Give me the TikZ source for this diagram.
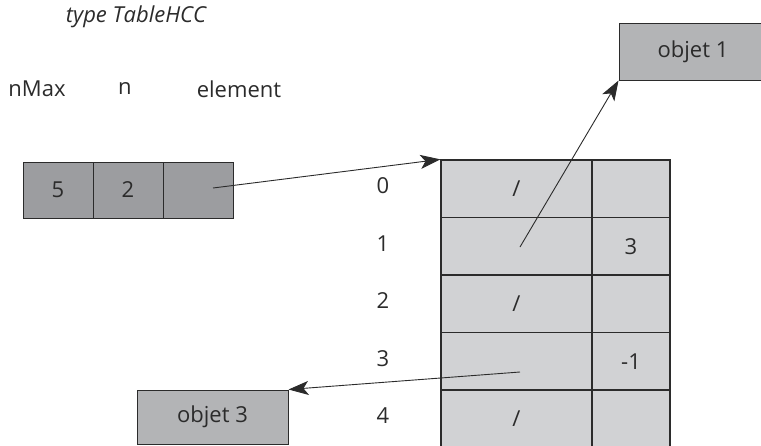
\documentclass[tikz,border=0pt]{standalone}
\usepackage{fontspec}
\setmainfont{Open Sans}
\usetikzlibrary{arrows.meta}
\definecolor{Ink}{HTML}{2B2B2B}
\definecolor{Slate}{HTML}{9C9DA0}
\definecolor{Ash}{HTML}{B3B4B6}
\definecolor{Mist}{HTML}{D1D2D4}

\begin{document}
\begin{tikzpicture}[x=1pt,y=-1pt,
    every node/.style={font=\fontsize{22}{26}\selectfont,text=Ink},
    champ/.style={draw=Ink,line width=1pt,fill=Slate,minimum width=70pt,minimum height=56pt,inner sep=0pt},
    objet/.style={draw=Ink,line width=1pt,fill=Ash,minimum width=151pt,minimum height=57pt,inner sep=0pt},
    case/.style={draw=Ink,line width=1.3pt,fill=Mist,minimum height=57.5pt,inner sep=0pt},
    pointeur/.style={-{Stealth[length=20pt,width=14pt,inset=5pt]},line width=0.9pt,draw=Ink}]
    \useasboundingbox (0,0) rectangle (761,445);
    \node[font=\fontsize{22}{26}\selectfont\itshape] (titre) at (136,17) {type TableHCC};
    \node (nmax) at (37,89) {nMax};
    \node (n) at (125,89) {n};
    \node (element) at (239,89) {element};
    \node[champ] (champmax) at (58,190) {5};
    \node[champ] (champn) at (128,190) {2};
    \node[champ] (champelem) at (198,190) {};
    \foreach \i/\g/\d in {0/{/}/{},1/{}/3,2/{/}/{},3/{}/-1,4/{/}/{}} {
      \node[case,minimum width=151pt] (gauche\i) at (516.5,188.75+57.5*\i) {\g};
      \node[case,minimum width=78pt] (droite\i) at (631,188.75+57.5*\i) {\d};
      \node (rang\i) at (383,186+57.5*\i) {\i};
    }
    \node[objet,minimum width=148pt] (objet1) at (693,51.5) {objet 1};
    \node[objet,minimum height=54pt] (objet3) at (212.5,417) {objet 3};
    \coordinate (depart) at (213,188);
    \coordinate (lien1) at (520,247);
    \coordinate (lien3) at (520,372);
    \draw[pointeur] (depart) -- (gauche0.north west);
    \draw[pointeur] (lien1) -- (objet1.south west);
    \draw[pointeur] (lien3) -- (objet3.north east);
\end{tikzpicture}
\end{document}
